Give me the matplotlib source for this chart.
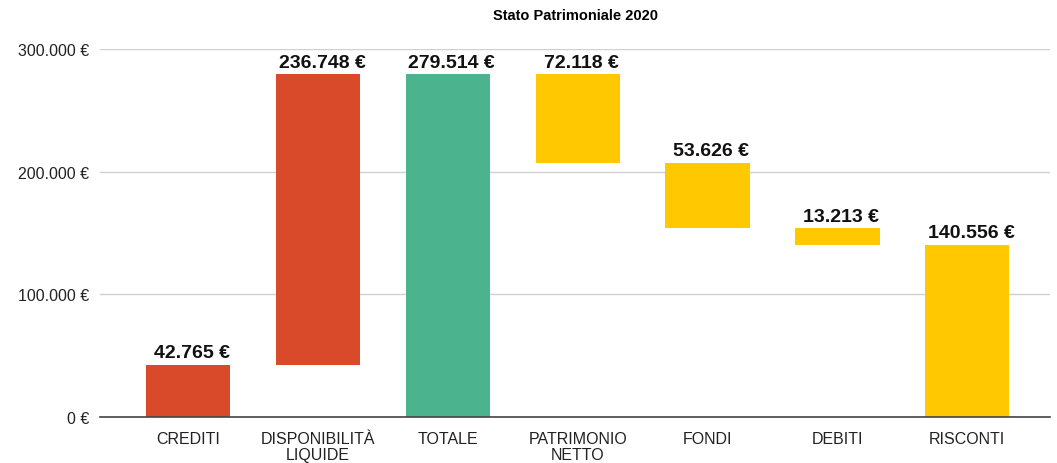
import matplotlib
matplotlib.use("Agg")
import matplotlib.pyplot as plt
import numpy as np

categories = ["CREDITI", "DISPONIBILITÀ\nLIQUIDE", "TOTALE", "PATRIMONIO\nNETTO",
              "FONDI", "DEBITI", "RISCONTI"]
# up = adds to the running total, total = total bar, down = subtracts
values = [42765, 236748, 279514, 72118, 53626, 13213, 140556]
kinds = ["up", "up", "total", "down", "down", "down", "down"]
yticks = [0, 100000, 200000, 300000]

colors = {"up": "#d84a29", "total": "#4bb48f", "down": "#ffc800"}

plt.rcParams['font.family'] = ['Liberation Sans', 'DejaVu Sans']

fig = plt.figure(figsize=(10.57, 4.64), dpi=100)
ax = fig.add_axes([0.0946, 0.099, 0.899, 0.793])

bottoms = []
heights = []
running = 0
for v, k in zip(values, kinds):
    if k == "up":
        bottoms.append(running)
        heights.append(v)
        running += v
    elif k == "total":
        bottoms.append(0)
        heights.append(v)
        running = v
    else:
        running -= v
        bottoms.append(running)
        heights.append(v)

x = np.arange(len(categories))
ax.bar(x, heights, bottom=bottoms, width=0.65,
       color=[colors[k] for k in kinds], zorder=3)

def fmt(v):
    return "{:,.0f} €".format(v).replace(",", ".")

for xi, b, h, v in zip(x, bottoms, heights, values):
    ax.text(xi + 0.03, b + h + 3000, fmt(v), ha='center', va='bottom',
            fontsize=14, fontweight='bold', color='#111111', zorder=4)

ax.set_xlim(-0.68, 6.64)
ax.set_ylim(0, 300000)
ax.set_yticks(yticks)
ax.set_yticklabels([fmt(t) for t in yticks])
ax.set_xticks(x)
ax.set_xticklabels(categories, linespacing=1.05)
ax.tick_params(axis='both', length=0, labelsize=11.5, colors='#222222')
ax.tick_params(axis='x', pad=10)
ax.tick_params(axis='y', pad=8)
ax.grid(axis='y', color='#d0d0d0', linewidth=1, zorder=0)
for s in ['top', 'right', 'left']:
    ax.spines[s].set_visible(False)
ax.spines['bottom'].set_color('#444444')
ax.spines['bottom'].set_linewidth(1.2)
ax.spines['bottom'].set_zorder(5)

ax.set_title("Stato Patrimoniale 2020", fontsize=10.5, fontweight='bold', pad=22)

fig.savefig("out.png", dpi=100)
